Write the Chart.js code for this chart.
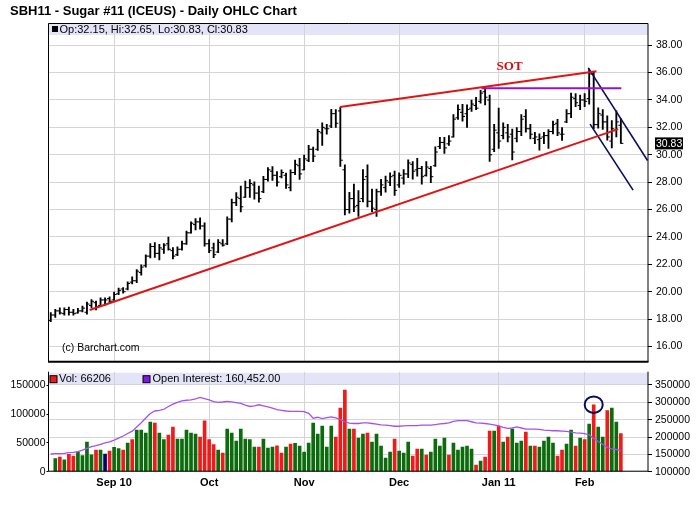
<!DOCTYPE html>
<html>
<head>
<meta charset="utf-8">
<title>SBH11 - Sugar #11 (ICEUS) - Daily OHLC Chart</title>
<script src="https://cdn.jsdelivr.net/npm/chart.js@4.4.1/dist/chart.umd.min.js"></script>
<style>
    html, body { margin: 0; padding: 0; background: #fff; }
    body { position: relative; width: 700px; height: 512px; overflow: hidden; font-family: "Liberation Sans", Arial, sans-serif; }
    .title { position: absolute; left: 10px; top: 3px; font-size: 13px; font-weight: bold; color: #000; }
    .panel { position: absolute; left: 0; width: 700px; }
    #pricePanel { top: 0; height: 372px; }
    #volumePanel { top: 360px; height: 152px; }
</style>
</head>
<body>
<div class="panel" id="pricePanel"><canvas id="priceChart"></canvas></div>
<div class="panel" id="volumePanel"><canvas id="volumeChart"></canvas></div>
<div class="title">SBH11 - Sugar #11 (ICEUS) - Daily OHLC Chart</div>
<script>
// Trading days on the chart, by month
const monthKeys = ['2010-08', '2010-09', '2010-10', '2010-11', '2010-12', '2011-01', '2011-02'];
const augDays = [12, 13, 16, 17, 18, 19, 20, 23, 24, 25, 26, 27, 30, 31];
const sepDays = [1, 2, 3, 7, 8, 9, 10, 13, 14, 15, 16, 17, 20, 21, 22, 23, 24, 27, 28, 29, 30];
const octDays = [1, 4, 5, 6, 7, 8, 11, 12, 13, 14, 15, 18, 19, 20, 21, 22, 25, 26, 27, 28, 29];
const novDays = [1, 2, 3, 4, 5, 8, 9, 10, 11, 12, 15, 16, 17, 18, 19, 22, 23, 24, 26, 29, 30];
const decDays = [1, 2, 3, 6, 7, 8, 9, 10, 13, 14, 15, 16, 17, 20, 21, 22, 23, 27, 28, 29, 30, 31];
const janDays = [3, 4, 5, 6, 7, 10, 11, 12, 13, 14, 18, 19, 20, 21, 24, 25, 26, 27, 28];
const febDays = [1, 2, 3, 4, 7, 8, 9, 10, 11];
const monthDays = [augDays, sepDays, octDays, novDays, decDays, janDays, febDays];

// Month labels on the time axis
const monthTickKeys = ['2010-09', '2010-10', '2010-11', '2010-12', '2011-01', '2011-02'];
const monthTickLabels = ['Sep 10', 'Oct', 'Nov', 'Dec', 'Jan 11', 'Feb'];

// Daily prices
const opens = [17.90,18.30,18.60,18.40,18.70,18.50,18.45,18.60,18.50,19.00,
    19.20,19.00,19.40,19.50,19.40,19.85,20.20,20.20,20.70,20.80,
    21.40,21.90,22.60,23.30,22.80,23.10,23.50,23.00,22.70,23.10,
    23.50,24.30,24.90,25.10,24.80,23.50,23.20,22.90,23.50,23.50,
    25.30,26.50,26.80,26.90,27.60,27.80,27.20,27.30,28.20,28.80,
    28.50,28.40,28.50,27.60,28.70,29.20,28.90,29.60,30.40,30.40,
    31.60,31.90,32.10,33.00,33.20,28.90,26.00,26.80,26.30,26.80,
    28.40,26.60,26.00,27.30,27.60,28.00,28.50,27.80,28.30,28.60,
    29.30,28.90,29.00,28.50,29.00,29.20,30.60,30.90,30.80,31.30,
    32.70,33.10,33.00,33.40,33.60,33.90,34.60,34.00,30.40,31.60,
    31.40,31.60,31.50,31.20,31.70,32.80,31.90,31.20,31.10,31.30,
    31.40,31.70,32.30,31.50,32.40,33.00,34.10,33.60,34.00,34.10,
    35.90,32.20,32.90,32.40,31.00,31.80,32.15];
const highs = [18.48,18.72,18.83,18.83,18.88,18.72,18.79,18.95,19.24,19.43,
    19.31,19.55,19.55,19.62,19.97,20.26,20.31,20.73,21.09,21.61,
    21.97,22.70,23.51,23.58,23.46,23.51,23.98,23.22,23.27,23.70,
    24.43,25.10,25.34,25.39,25.03,23.80,23.56,23.80,23.80,25.46,
    26.76,27.24,27.71,28.07,28.19,28.02,27.71,28.43,29.07,29.14,
    28.78,28.90,28.66,28.90,29.61,29.73,29.97,30.68,30.56,31.86,
    32.34,32.22,33.32,33.29,33.46,29.27,27.26,27.85,27.38,28.92,
    29.27,27.50,27.50,28.21,28.44,28.68,28.80,28.68,28.92,29.63,
    29.51,29.74,29.15,29.51,29.15,30.57,31.28,31.28,31.40,32.94,
    33.65,33.69,33.65,34.00,34.20,34.70,34.94,34.35,32.23,33.41,
    32.34,32.23,31.87,31.99,32.93,33.29,32.23,31.64,31.52,31.64,
    31.83,32.46,32.58,31.99,33.29,34.51,34.47,34.35,34.47,36.27,
    36.05,33.42,33.30,32.85,32.50,33.20,32.65];
const lows = [17.82,18.12,18.36,18.29,18.29,18.29,18.43,18.53,18.36,18.83,
    18.67,18.95,19.00,19.19,19.36,19.78,19.90,20.14,20.57,20.66,
    21.21,21.80,22.47,22.51,22.32,22.80,23.03,22.39,22.63,23.03,
    23.45,24.28,24.51,24.56,23.32,22.85,22.49,22.85,23.32,23.44,
    25.10,26.29,25.82,26.88,26.88,26.76,26.53,27.24,28.07,28.12,
    27.71,28.31,27.55,27.36,28.54,28.19,28.90,29.49,29.49,30.32,
    30.68,31.51,31.98,31.99,29.15,25.61,25.73,25.84,25.49,26.55,
    26.20,25.84,25.49,27.03,27.26,27.74,27.03,27.62,27.85,28.33,
    28.21,28.44,27.85,28.44,27.97,29.15,30.45,30.10,30.69,31.28,
    32.58,32.46,31.99,33.17,33.29,33.76,33.64,29.51,30.22,30.46,
    31.16,30.93,29.63,30.93,31.40,31.64,31.16,30.81,30.34,30.81,
    30.46,31.52,31.40,31.05,32.34,32.70,33.52,33.29,33.52,33.70,
    31.90,31.95,31.85,31.07,30.50,31.30,30.83];
const closes = [18.30,18.60,18.45,18.70,18.50,18.40,18.60,18.80,19.10,19.30,
    18.90,19.40,19.40,19.30,19.80,20.10,20.00,20.60,20.80,21.50,
    21.80,22.60,23.30,22.80,23.20,23.40,23.10,22.60,23.10,23.50,
    24.30,25.00,25.10,24.80,23.50,23.00,22.70,23.60,23.40,25.30,
    26.50,26.90,26.20,27.60,27.90,27.20,26.80,28.20,28.90,28.50,
    28.00,28.70,27.80,28.70,29.30,28.60,29.70,30.40,29.90,31.70,
    32.00,31.90,33.00,32.30,29.60,26.00,26.80,26.20,26.60,28.20,
    26.60,26.10,27.30,27.80,28.10,28.40,27.40,28.50,28.60,29.40,
    28.80,29.00,28.40,29.10,28.40,30.20,30.90,30.50,31.00,32.60,
    33.30,32.80,33.30,33.70,33.40,34.50,34.20,30.00,31.80,31.00,
    32.00,31.30,30.20,31.70,32.60,31.90,31.50,31.30,31.20,31.40,
    31.70,32.20,31.60,31.50,33.00,34.20,33.80,34.00,33.90,35.90,
    32.20,33.00,32.40,31.30,31.90,32.40,30.83];

// Volume (first day not shown) and up / down / unchanged flag per day
const volumes = [null,22600,25500,20800,30000,27200,34000,27800,51500,29500,
    37600,37600,30700,35900,42200,40000,37600,49800,55600,72300,
    72300,67100,86200,84500,67100,55600,63700,77500,56700,56700,
    72300,67100,65400,60200,88500,55600,46900,37600,32400,74000,
    67100,53200,74000,56700,55600,42800,42800,56700,41100,42800,
    45100,32400,42800,48000,49200,44600,34100,49800,84500,65400,
    79300,42800,79300,60200,110500,141800,74000,74000,58400,65400,
    67100,51500,65400,44600,23700,34100,56700,35900,32400,51500,
    27200,39400,39400,28900,34100,56700,44600,58400,28900,49800,
    37600,42800,44600,39400,11600,18500,25500,70600,70600,79300,
    51500,60200,74000,49800,53200,68900,44600,44600,42800,53200,
    60200,49800,27200,37600,48000,72300,44600,58400,55600,82800,
    116300,77500,60200,105900,110500,86200,66206];
const volumeDirs = ('g' +
    'grgrrggggr' + 'gnrggrgrgg' + 'ggrggrrggg' + 'ggrrrrgrgg' + 'gggggrgggr' +
    'rgrggggggg' + 'ggrrrgrggr' + 'gggggrgggr' + 'rgrggggrgg' + 'gggrgrrgrg' +
    'rgggrgrggg' + 'grrggrgrgr' + 'ggrggr').split('');

// Open interest
const openInterest = [151000,152000,152000,153000,155000,156000,158000,162000,167000,172000,
    175000,179000,183000,186000,191000,197000,203000,210000,217000,229000,
    241000,255000,268000,275000,277000,280000,288000,295000,300000,304000,
    306000,307000,310000,314000,311000,307000,302000,300000,301000,303000,
    301000,299000,297000,292000,288000,290000,293000,290000,287000,283000,
    279000,277000,275000,274000,274000,274000,273000,268000,254000,257000,
    253000,256000,258000,255000,250000,244000,240000,239000,239000,241000,
    241000,239000,237000,235000,234000,233000,231000,231000,232000,233000,
    233000,233000,234000,234000,234000,236000,238000,239000,241000,245000,
    247000,247000,247000,244000,241000,240000,239000,237000,235000,232000,
    228000,225000,226000,229000,226000,223000,223000,223000,222000,220000,
    219000,218000,218000,217000,216000,214000,212000,211000,210000,206000,
    196000,187000,179000,170000,166000,164000,160452];

// Axis tick values
const priceTicks = [16, 18, 20, 22, 24, 26, 28, 30, 32, 34, 36, 38];
const volumeTicks = [0, 50000, 100000, 150000];
const oiTicks = [100000, 150000, 200000, 250000, 300000, 350000];

// Hand drawn lines: [day index, price] end points
const supportLine = [[8.6, 18.67], [125.4, 31.87]];
const wedgeTopLine = [[63.9, 33.49], [120.6, 36.10]];
const sotLevel = [[95.2, 34.85], [126.1, 34.85]];
const channelTop = [[118.8, 36.34], [131.9, 29.58]];
const channelBottom = [[119.2, 32.24], [128.7, 27.42]];
const sotLabel = { text: 'SOT', day: 101.4, price: 36.45 };
const circledDate = '2011-02-03';

const dates = monthKeys.flatMap((m, k) => monthDays[k].map(d => m + '-' + String(d).padStart(2, '0')));
const monthStarts = monthTickKeys.map(k => dates.findIndex(d => d.startsWith(k)));
const last = dates.length - 1;

const gridColor = '#d4d4d4';
const upColor = '#0c6b0c';
const downColor = '#ee1b1b';
const flatColor = '#000070';
const bandColor = '#e4e4f9';
const fontFamily = '"Liberation Sans", Arial, sans-serif';

Chart.defaults.font.family = fontFamily;
Chart.defaults.color = '#000';

function toPoints(pairs) {
    return pairs.map(p => ({ x: p[0], y: p[1] }));
}

function trendDataset(pairs, color, width) {
    return {
        type: 'line',
        data: toPoints(pairs),
        borderColor: color,
        borderWidth: width,
        pointRadius: 0,
        tension: 0,
        order: 0
    };
}

function timeAxis() {
    return {
        type: 'linear',
        min: -0.5,
        max: 132,
        offset: false,
        afterBuildTicks: axis => { axis.ticks = monthStarts.map(v => ({ value: v })); },
        grid: { color: gridColor, drawTicks: false, offset: false },
        border: { display: false }
    };
}

// open / close ticks of the OHLC bars
const ohlcTicks = {
    id: 'ohlcTicks',
    afterDatasetDraw(chart, args) {
        if (args.meta.type !== 'bar') return;
        const ctx = chart.ctx;
        const xs = chart.scales.x;
        const ys = chart.scales.y;
        ctx.save();
        ctx.fillStyle = '#000';
        dates.forEach((d, i) => {
            const px = xs.getPixelForValue(i);
            ctx.fillRect(px - 2.5, ys.getPixelForValue(opens[i]) - 0.5, 2.5, 1);
            ctx.fillRect(px, ys.getPixelForValue(closes[i]) - 0.5, 2.5, 1);
        });
        ctx.restore();
    }
};

const priceDecor = {
    id: 'priceDecor',
    beforeDraw(chart) {
        const { ctx, chartArea: a } = chart;
        ctx.save();
        ctx.fillStyle = bandColor;
        ctx.fillRect(a.left, a.top, a.right - a.left, 12);
        ctx.restore();
    },
    afterDraw(chart) {
        const { ctx, chartArea: a } = chart;
        const xs = chart.scales.x;
        const ys = chart.scales.y;
        ctx.save();
        // frame
        ctx.strokeStyle = '#000';
        ctx.lineWidth = 1;
        ctx.beginPath();
        ctx.moveTo(a.left, a.bottom);
        ctx.lineTo(a.left, a.top + 0.5);
        ctx.lineTo(a.right, a.top + 0.5);
        ctx.lineTo(a.right, a.bottom);
        ctx.stroke();
        ctx.lineWidth = 2;
        ctx.beginPath();
        ctx.moveTo(a.left - 0.5, a.bottom);
        ctx.lineTo(a.right + 0.5, a.bottom);
        ctx.stroke();

        // legend strip
        ctx.fillStyle = '#000';
        ctx.fillRect(a.left + 3.5, a.top + 3, 6, 6);
        ctx.font = '11px ' + fontFamily;
        ctx.textBaseline = 'middle';
        ctx.textAlign = 'left';
        ctx.fillText('Op:' + opens[last].toFixed(2) + ', Hi:' + highs[last].toFixed(2) +
            ', Lo:' + lows[last].toFixed(2) + ', Cl:' + closes[last].toFixed(2), a.left + 11, a.top + 6.5);

        // copyright
        ctx.font = '10.5px ' + fontFamily;
        ctx.fillText('(c) Barchart.com', a.left + 13.5, a.bottom - 13.5);

        // SOT note
        ctx.fillStyle = '#d01010';
        ctx.font = 'bold 13px "Liberation Serif", "Times New Roman", serif';
        ctx.textAlign = 'center';
        ctx.fillText(sotLabel.text, xs.getPixelForValue(sotLabel.day), ys.getPixelForValue(sotLabel.price));

        // last price flag
        const py = ys.getPixelForValue(closes[last]);
        ctx.fillStyle = '#000';
        ctx.fillRect(a.right + 7, py - 6, 28, 12);
        ctx.fillStyle = '#fff';
        ctx.font = '10.5px ' + fontFamily;
        ctx.textAlign = 'left';
        ctx.fillText(closes[last].toFixed(2), a.right + 8, py + 0.5);
        ctx.restore();
    }
};

const volumeDecor = {
    id: 'volumeDecor',
    beforeDraw(chart) {
        const { ctx, chartArea: a } = chart;
        ctx.save();
        ctx.fillStyle = bandColor;
        ctx.fillRect(a.left, a.top + 1, a.right - a.left, 12);
        ctx.restore();
    },
    afterDraw(chart) {
        const { ctx, chartArea: a } = chart;
        ctx.save();
        ctx.strokeStyle = '#000';
        ctx.lineWidth = 1;
        ctx.beginPath();
        ctx.moveTo(a.left, a.top);
        ctx.lineTo(a.left, a.bottom - 0.5);
        ctx.lineTo(a.right, a.bottom - 0.5);
        ctx.lineTo(a.right, a.top);
        ctx.stroke();

        // legend strip
        ctx.font = '11px ' + fontFamily;
        ctx.textBaseline = 'middle';
        ctx.textAlign = 'left';
        const ly = a.top + 7.5;
        ctx.fillStyle = downColor;
        ctx.fillRect(a.left + 1.5, ly - 3.5, 7, 7);
        ctx.strokeRect(a.left + 1.5, ly - 3.5, 7, 7);
        ctx.fillStyle = '#000';
        ctx.fillText('Vol: ' + volumes[last], a.left + 10.5, ly);
        ctx.fillStyle = '#8316e6';
        ctx.fillRect(a.left + 94.5, ly - 3.5, 7, 7);
        ctx.strokeRect(a.left + 94.5, ly - 3.5, 7, 7);
        ctx.fillStyle = '#000';
        ctx.fillText('Open Interest: ' + openInterest[last].toLocaleString('en-US', { minimumFractionDigits: 2 }),
            a.left + 104, ly);

        // circled volume spike
        const ci = dates.indexOf(circledDate);
        const cx = chart.scales.x.getPixelForValue(ci);
        const cy = chart.scales.yVol.getPixelForValue(volumes[ci]);
        ctx.strokeStyle = '#0a0a5c';
        ctx.lineWidth = 2;
        ctx.beginPath();
        ctx.ellipse(cx, cy, 9, 8.3, 0, 0, Math.PI * 2);
        ctx.stroke();
        ctx.restore();
    }
};

new Chart(document.getElementById('priceChart'), {
    type: 'bar',
    data: {
        datasets: [
            trendDataset(supportLine, '#e01414', 2),
            trendDataset(wedgeTopLine, '#e01414', 2),
            trendDataset(sotLevel, '#9a10d0', 2),
            trendDataset(channelTop, '#0b0b5e', 1.6),
            trendDataset(channelBottom, '#0b0b5e', 1.6),
            {
                type: 'bar',
                label: 'OHLC',
                data: dates.map((d, i) => ({ x: i, y: [lows[i], highs[i]] })),
                backgroundColor: '#000',
                barThickness: 1.2,
                order: 1
            }
        ]
    },
    options: {
        responsive: true,
        maintainAspectRatio: false,
        animation: false,
        events: [],
        layout: { padding: { left: 48.5, top: 23, right: 0, bottom: 1.5 } },
        plugins: { legend: { display: false }, tooltip: { enabled: false } },
        scales: {
            x: Object.assign(timeAxis(), {
                ticks: { display: false },
                afterFit: s => { s.height = 0; }
            }),
            y: {
                position: 'right',
                min: 14.89,
                max: 39.62,
                afterBuildTicks: axis => { axis.ticks = priceTicks.map(v => ({ value: v })); },
                ticks: {
                    callback: v => v.toFixed(2),
                    font: { size: 10.5 },
                    padding: 4
                },
                grid: { color: gridColor, tickColor: '#000', tickLength: 4 },
                border: { display: false },
                afterFit: s => { s.width = 52; }
            }
        }
    },
    plugins: [ohlcTicks, priceDecor]
});

new Chart(document.getElementById('volumeChart'), {
    type: 'bar',
    data: {
        datasets: [
            {
                type: 'line',
                label: 'Open Interest',
                data: dates.map((d, i) => ({ x: i, y: openInterest[i] })),
                yAxisID: 'yOI',
                borderColor: '#a452ef',
                borderWidth: 1.3,
                pointRadius: 0,
                tension: 0,
                order: 0
            },
            {
                type: 'bar',
                label: 'Vol',
                data: dates.map((d, i) => ({ x: i, y: volumes[i] })),
                yAxisID: 'yVol',
                backgroundColor: volumeDirs.map(c => c === 'g' ? upColor : c === 'r' ? downColor : flatColor),
                barThickness: 3,
                order: 1
            }
        ]
    },
    options: {
        responsive: true,
        maintainAspectRatio: false,
        animation: false,
        events: [],
        layout: { padding: { left: 0, top: 11.7, right: 0, bottom: 0 } },
        plugins: { legend: { display: false }, tooltip: { enabled: false } },
        scales: {
            x: Object.assign(timeAxis(), {
                ticks: {
                    callback: (v, i) => monthTickLabels[i],
                    font: { size: 11, weight: 'bold' },
                    padding: 5,
                    maxRotation: 0,
                    autoSkip: false
                },
                afterFit: s => { s.height = 40.3; }
            }),
            yVol: {
                position: 'left',
                min: 0,
                max: 173600,
                afterBuildTicks: axis => { axis.ticks = volumeTicks.map(v => ({ value: v })); },
                ticks: { callback: v => String(v), font: { size: 10.5 }, padding: 1 },
                grid: { drawOnChartArea: false, tickColor: '#000', tickLength: 2 },
                border: { display: false },
                afterFit: s => { s.width = 48.5; }
            },
            yOI: {
                position: 'right',
                min: 100000,
                max: 388300,
                afterBuildTicks: axis => { axis.ticks = oiTicks.map(v => ({ value: v })); },
                ticks: { callback: v => String(v), font: { size: 10.5 }, padding: 3 },
                grid: { color: gridColor, tickColor: '#000', tickLength: 4 },
                border: { display: false },
                afterFit: s => { s.width = 52; }
            }
        }
    },
    plugins: [volumeDecor]
});
</script>
</body>
</html>
